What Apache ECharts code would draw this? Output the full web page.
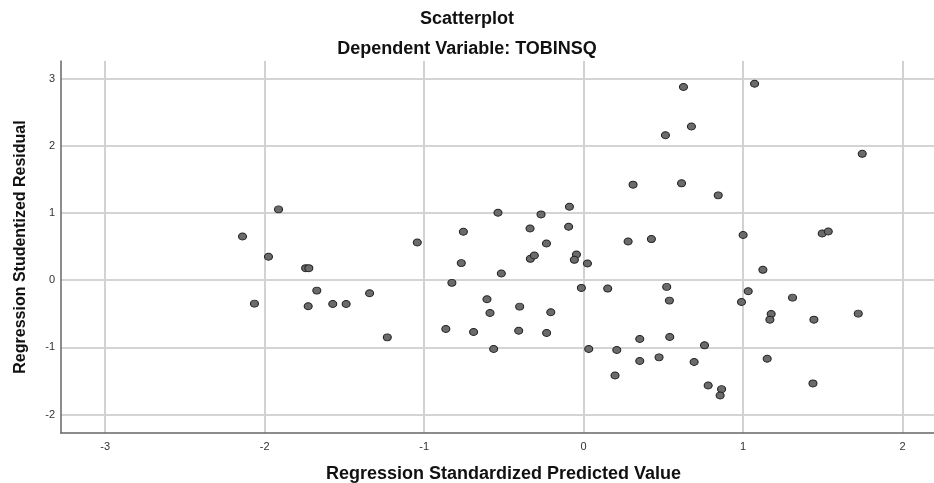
<!DOCTYPE html>
<html>
<head>
<meta charset="utf-8">
<script src="https://cdn.jsdelivr.net/npm/echarts@6/dist/echarts.min.js"></script>
<style>
  html, body { margin: 0; padding: 0; background: #fff; }
  #scatter { width: 934px; height: 483px; }
</style>
</head>
<body>
<div id="scatter"></div>
<script>
// Valeurs prédites standardisées (axe X)
const predicted = [
  -2.139, -1.913, -1.976, -1.743, -1.723, -2.064, -1.727, -1.673, -1.573, -1.489,
  -1.342, -1.231, -1.043, -0.754, -0.767, -0.826, -0.864, -0.690, -0.606, -0.587,
  -0.564, -0.537, -0.516, -0.401, -0.407, -0.336, -0.334, -0.309, -0.267, -0.233,
  -0.206, -0.232, -0.089, -0.094, -0.045, -0.058, 0.024, -0.014, 0.151, 0.032,
  0.208, 0.197, 0.626, 1.072, 0.676, 0.513, 1.747, 0.310, 0.614, 0.844,
  0.279, 0.425, 1.000, 1.496, 1.534, 1.124, 0.521, 0.538, 1.032, 0.990,
  1.310, 1.176, 1.168, 1.444, 1.722, 0.352, 0.540, 0.352, 0.473, 0.693,
  0.758, 1.151, 0.781, 0.865, 0.856, 1.438
];

// Résidus studentisés (axe Y)
const residuals = [
  0.651, 1.054, 0.348, 0.179, 0.179, -0.349, -0.388, -0.155, -0.354, -0.354,
  -0.194, -0.851, 0.561, 0.721, 0.254, -0.040, -0.727, -0.772, -0.284, -0.488,
  -1.025, 1.004, 0.099, -0.394, -0.752, 0.770, 0.318, 0.367, 0.979, 0.546,
  -0.478, -0.787, 1.094, 0.796, 0.382, 0.303, 0.248, -0.115, -0.125, -1.025,
  -1.040, -1.418, 2.875, 2.925, 2.288, 2.158, 1.881, 1.422, 1.442, 1.263,
  0.576, 0.612, 0.672, 0.696, 0.725, 0.154, -0.100, -0.304, -0.164, -0.324,
  -0.260, -0.503, -0.588, -0.588, -0.498, -0.876, -0.846, -1.204, -1.149, -1.219,
  -0.970, -1.170, -1.567, -1.622, -1.716, -1.537
];

// Graduations affichées
const xTicks = [-3, -2, -1, 0, 1, 2];
const yTicks = [-2, -1, 0, 1, 2, 3];

const FONT = "'Liberation Sans', Arial, sans-serif";

function tickFormatter(ticks) {
  return function (value) {
    const v = Math.round(value * 1000) / 1000;
    return ticks.includes(v) ? String(v) : "";
  };
}

function settingsScatter() {
  return {
    animation: false,
    backgroundColor: "#ffffff",
    title: [
      {
        text: "Scatterplot",
        left: "center",
        top: 4,
        textStyle: { fontFamily: FONT, fontSize: 18, fontWeight: "bold", color: "#111", lineHeight: 20 },
      },
      {
        text: "Dependent Variable: TOBINSQ",
        left: "center",
        top: 34,
        textStyle: { fontFamily: FONT, fontSize: 18, fontWeight: "bold", color: "#111", lineHeight: 20 },
      },
    ],
    grid: {
      left: 61, right: 0, top: 61, bottom: 50,
      containLabel: false,
      outerBoundsMode: "none",
    },
    xAxis: {
      type: "value",
      min: -3.277,
      max: 2.197,
      name: "Regression Standardized Predicted Value",
      nameLocation: "middle",
      nameGap: 32,
      nameTextStyle: {
        fontFamily: FONT, fontSize: 18, fontWeight: "bold", color: "#111",
        padding: [0, 0, 0, 12],
      },
      axisLine: { show: true, onZero: false, lineStyle: { color: "#666", width: 1.5 } },
      axisTick: { show: false },
      axisLabel: {
        margin: 8,
        fontFamily: FONT, fontSize: 11, color: "#333",
        formatter: tickFormatter(xTicks),
      },
      splitLine: {
        show: true, showMinLine: false, showMaxLine: false,
        lineStyle: { color: "#d2d2d2", width: 2 },
      },
    },
    yAxis: {
      type: "value",
      min: -2.275,
      max: 3.263,
      name: "Regression Studentized Residual",
      nameLocation: "middle",
      nameGap: 32,
      nameRotate: 90,
      nameTextStyle: { fontFamily: FONT, fontSize: 16, fontWeight: "bold", color: "#111" },
      axisLine: { show: true, onZero: false, lineStyle: { color: "#666", width: 1.5 } },
      axisTick: { show: false },
      axisLabel: {
        margin: 6,
        fontFamily: FONT, fontSize: 11, color: "#333",
        formatter: tickFormatter(yTicks),
      },
      splitLine: {
        show: true, showMinLine: false, showMaxLine: false,
        lineStyle: { color: "#c6c6c6", width: 1.5 },
      },
    },
    series: [
      {
        type: "scatter",
        symbol: "circle",
        symbolSize: [8, 7],
        itemStyle: { color: "#6b6b6b", borderColor: "#222", borderWidth: 1, opacity: 1 },
        data: predicted.map((x, i) => [x, residuals[i]]),
      },
    ],
  };
}

const dom = document.querySelector("#scatter");
const myChart = echarts.init(dom, null, { renderer: "canvas" });
myChart.setOption(settingsScatter());
</script>
</body>
</html>
